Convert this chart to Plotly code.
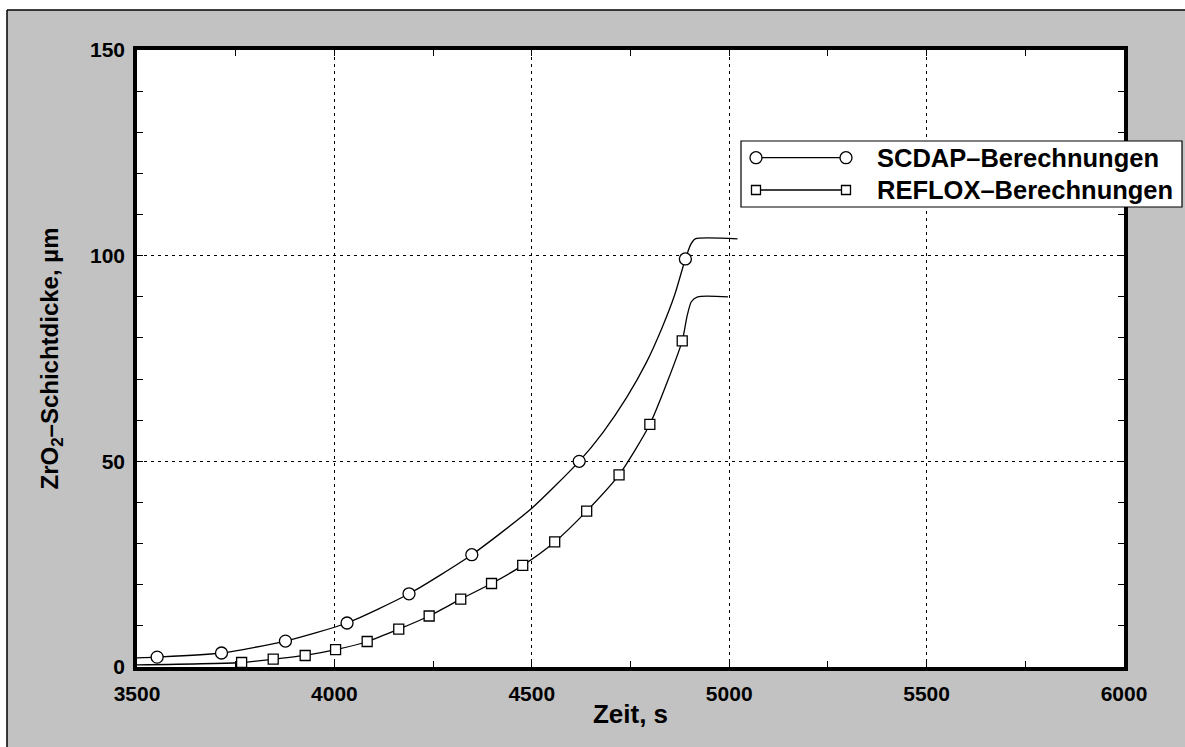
import plotly.graph_objects as go

# SCDAP calculation: oxide layer thickness over time
scdap_t = [3500, 3551, 3714, 3876, 4032, 4189, 4348, 4500, 4620, 4680, 4740, 4790, 4830, 4862, 4889, 4903, 4914, 5021]
scdap_v = [2.2, 2.4, 3.4, 6.3, 10.7, 17.8, 27.3, 38.6, 50.0, 57.0, 65.5, 74.0, 82.5, 90.5, 99.2, 102.8, 104.1, 104.1]
scdap_mark_t = [3551, 3714, 3876, 4032, 4189, 4348, 4620, 4889]
scdap_mark_v = [2.4, 3.4, 6.3, 10.7, 17.8, 27.3, 50.0, 99.2]

# REFLOX calculation
reflox_t = [3500, 3765, 3845, 3926, 4003, 4083, 4163, 4240, 4320, 4398, 4477, 4558, 4639, 4721, 4799, 4881, 4893, 4904, 4920, 4997]
reflox_v = [0.5, 1.1, 1.9, 2.8, 4.2, 6.2, 9.2, 12.4, 16.5, 20.3, 24.7, 30.4, 37.9, 46.7, 59.0, 79.3, 85.2, 88.8, 90.0, 90.0]
reflox_mark_t = [3765, 3845, 3926, 4003, 4083, 4163, 4240, 4320, 4398, 4477, 4558, 4639, 4721, 4799, 4881]
reflox_mark_v = [1.1, 1.9, 2.8, 4.2, 6.2, 9.2, 12.4, 16.5, 20.3, 24.7, 30.4, 37.9, 46.7, 59.0, 79.3]

series_names = ["SCDAP–Berechnungen", "REFLOX–Berechnungen"]
x_ticks = [3500, 4000, 4500, 5000, 5500, 6000]
y_ticks = [0, 50, 100, 150]

FONT = "Liberation Sans, Arial, Helvetica, sans-serif"
W, H = 1185, 747
L, R, T, B = 137, 61, 50, 80
PW, PH = W - L - R, H - T - B
BG = "#c2c2c2"


def px(xp):
    return (xp - L) / PW


def py(yp):
    return (H - B - yp) / PH


fig = go.Figure()

line_style = dict(color="black", width=1.3, shape="spline", smoothing=0.6)

fig.add_trace(go.Scatter(x=scdap_t, y=scdap_v, mode="lines", line=line_style,
                         name=series_names[0], showlegend=False, hoverinfo="skip"))
fig.add_trace(go.Scatter(x=reflox_t, y=reflox_v, mode="lines", line=line_style,
                         name=series_names[1], showlegend=False, hoverinfo="skip"))
fig.add_trace(go.Scatter(x=scdap_mark_t, y=scdap_mark_v, mode="markers",
                         marker=dict(symbol="circle", size=12, color="white",
                                     line=dict(color="black", width=1.3)),
                         name=series_names[0], showlegend=False))
fig.add_trace(go.Scatter(x=reflox_mark_t, y=reflox_mark_v, mode="markers",
                         marker=dict(symbol="square", size=10, color="white",
                                     line=dict(color="black", width=1.3)),
                         name=series_names[1], showlegend=False))

axis_common = dict(
    showline=True, linecolor="black", linewidth=3.5, mirror="allticks",
    ticks="inside", ticklen=6, tickcolor="black", tickwidth=1,
    showgrid=True, gridcolor="black", gridwidth=1, griddash="3px,4px",
    zeroline=False,
    tickfont=dict(family=FONT, size=21, color="black", weight="bold"),
)

fig.update_xaxes(
    range=[3500, 6000], tickvals=x_ticks, ticktext=[str(v) for v in x_ticks],
    minor=dict(ticks="inside", ticklen=6, dtick=250, tick0=3500, tickcolor="black", showgrid=False),
    ticklabelstandoff=5,
    title=dict(text="Zeit, s", standoff=2,
               font=dict(family=FONT, size=26, color="black", weight="bold")),
    **axis_common,
)
fig.update_yaxes(
    range=[0, 150], tickvals=y_ticks, ticktext=[str(v) for v in y_ticks],
    minor=dict(ticks="inside", ticklen=6, dtick=10, tick0=0, tickcolor="black", showgrid=False),
    ticklabelstandoff=4,
    title=dict(text="ZrO<sub>2</sub>–Schichtdicke, µm", standoff=26,
               font=dict(family=FONT, size=24, color="black", weight="bold")),
    **axis_common,
)

shapes = [
    # white strip outside the scanned frame, then the frame lines
    dict(type="rect", xref="paper", yref="paper", x0=px(0), x1=px(W), y0=py(10), y1=py(0),
         fillcolor="white", line=dict(width=0), layer="below"),
    dict(type="rect", xref="paper", yref="paper", x0=px(0), x1=px(7), y0=py(H), y1=py(0),
         fillcolor="white", line=dict(width=0), layer="below"),
    dict(type="line", xref="paper", yref="paper", x0=px(7), x1=px(W), y0=py(10), y1=py(10),
         line=dict(color="black", width=1.5)),
    dict(type="line", xref="paper", yref="paper", x0=px(7), x1=px(7), y0=py(10), y1=py(H),
         line=dict(color="black", width=1.5)),
    # legend box
    dict(type="rect", xref="paper", yref="paper", x0=px(741), x1=px(1182), y0=py(207), y1=py(141),
         fillcolor="white", line=dict(color="black", width=1.2)),
]

annotations = []
legend_rows = [(157.7, "circle", 12), (190.0, "square", 9)]
for (row_y, sym, size), name in zip(legend_rows, series_names):
    shapes.append(dict(type="line", xref="paper", yref="paper", x0=px(756), x1=px(846),
                       y0=py(row_y), y1=py(row_y), line=dict(color="black", width=1.3)))
    for cx in (756, 846):
        shapes.append(dict(type="circle" if sym == "circle" else "rect",
                           xref="paper", yref="paper", xsizemode="pixel", ysizemode="pixel",
                           xanchor=px(cx), yanchor=py(row_y),
                           x0=-size / 2, x1=size / 2, y0=-size / 2, y1=size / 2,
                           fillcolor="white", line=dict(color="black", width=1.3)))
    annotations.append(dict(xref="paper", yref="paper", x=px(875), y=py(row_y),
                            xanchor="left", yanchor="middle", showarrow=False, text=name,
                            font=dict(family=FONT, size=25.5, color="black", weight="bold")))

fig.update_layout(
    width=W, height=H, autosize=False,
    margin=dict(l=L, r=R, t=T, b=B, autoexpand=False),
    paper_bgcolor=BG, plot_bgcolor="white",
    shapes=shapes, annotations=annotations, showlegend=False,
)

fig.write_html("out.html")
